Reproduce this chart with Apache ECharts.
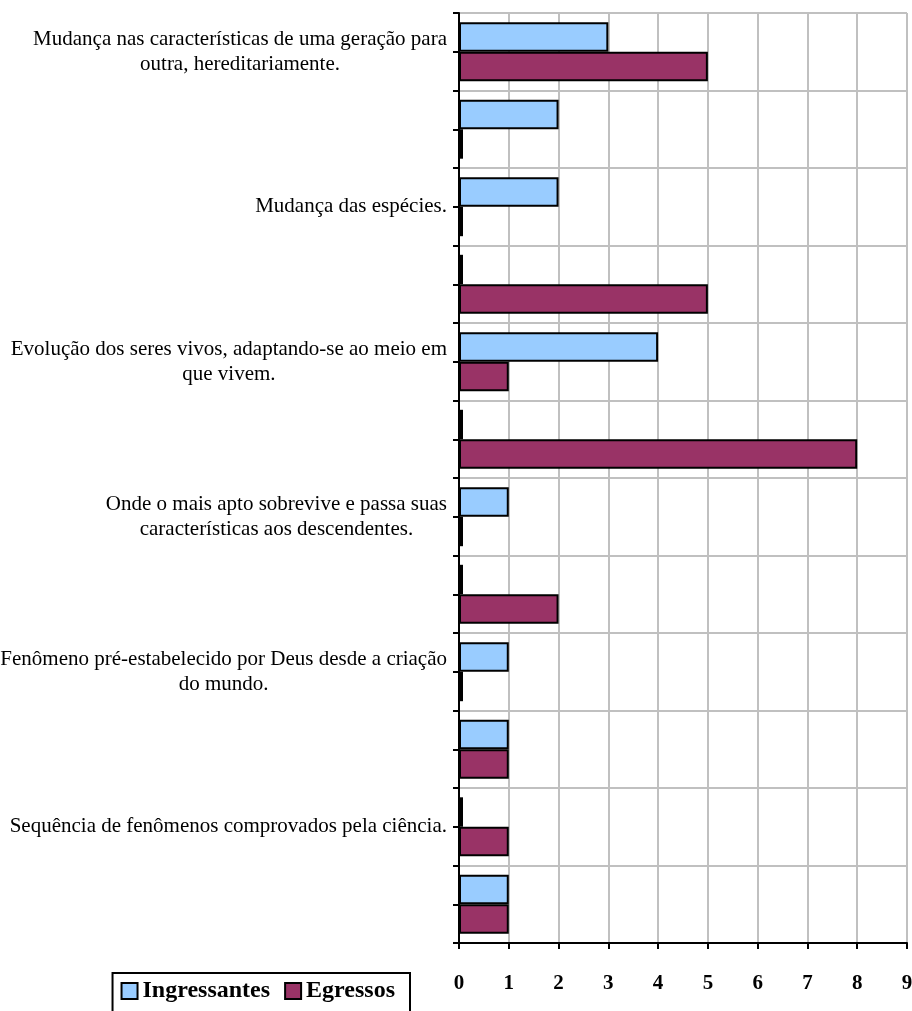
<!DOCTYPE html>
<html>
<head>
<meta charset="utf-8">
<script src="https://cdn.jsdelivr.net/npm/echarts@6/dist/echarts.min.js"></script>
<style>
  html, body { margin: 0; padding: 0; background: #fff; }
  #chart { width: 912px; height: 1011px; }
</style>
</head>
<body>
<div id="chart"></div>
<script>
// categorias (linhas em branco fazem parte do gráfico original)
const categorias = [
  'Mudança nas características de uma geração para\noutra, hereditariamente.',
  '',
  'Mudança das espécies.',
  '',
  'Evolução dos seres vivos, adaptando-se ao meio em\nque vivem.',
  '',
  'Onde o mais apto sobrevive e passa suas\ncaracterísticas aos descendentes.',
  '',
  'Fenômeno pré-estabelecido por Deus desde a criação\ndo mundo.',
  '',
  'Sequência de fenômenos comprovados pela ciência.',
  ''
]
const ingressantes = [3, 2, 2, 0, 4, 0, 1, 0, 1, 1, 0, 1]
const egressos = [5, 0, 0, 5, 1, 8, 0, 2, 0, 1, 1, 1]
const xTicks = [0, 1, 2, 3, 4, 5, 6, 7, 8, 9]

const fonte = "'Liberation Serif', 'Times New Roman', serif"
const chart = echarts.init(document.getElementById('chart'))

const option = {
  animation: false,
  backgroundColor: '#fff',
  textStyle: { fontFamily: fonte },
  grid: { left: 459, top: 13, right: 5, bottom: 68, containLabel: false, outerBoundsMode: 'none' },
  legend: {
    data: ['Ingressantes', 'Egressos'],
    right: 502,
    top: 973,
    orient: 'horizontal',
    padding: [6, 15, 12, 8],
    borderColor: '#000',
    borderWidth: 2,
    itemGap: 14,
    itemWidth: 16,
    itemHeight: 16,
    icon: 'rect',
    itemStyle: { borderColor: '#000', borderWidth: 2 },
    textStyle: { fontFamily: fonte, fontSize: 24, fontWeight: 'bold', color: '#000' }
  },
  xAxis: {
    type: 'value',
    min: xTicks[0],
    max: xTicks[xTicks.length - 1],
    interval: 1,
    axisLine: { show: true, lineStyle: { color: '#000', width: 2 } },
    axisTick: { show: true, length: 6, lineStyle: { color: '#000', width: 2 } },
    axisLabel: { margin: 30, fontFamily: fonte, fontSize: 21, fontWeight: 'bold', color: '#000' },
    splitLine: { show: true, lineStyle: { color: '#c0c0c0', width: 2 } }
  },
  yAxis: [{
    type: 'category',
    inverse: true,
    data: categorias,
    axisLine: { show: true, lineStyle: { color: '#000', width: 2 } },
    axisTick: { show: true, length: 6, alignWithLabel: false, interval: 0, lineStyle: { color: '#000', width: 2 } },
    splitLine: { show: true, interval: 0, lineStyle: { color: '#c0c0c0', width: 2 } },
    axisLabel: {
      interval: 0,
      margin: 12,
      align: 'right',
      color: '#000',
      formatter: function (v) {
        if (!v) return ''
        return v.split('\n').map(l => '{c|' + l + '}').join('\n')
      },
      rich: {
        c: { align: 'center', fontFamily: fonte, fontSize: 21, lineHeight: 25, color: '#000' }
      }
    }
  }, {
    // marcas intermediárias entre as barras de cada categoria
    type: 'category',
    inverse: true,
    position: 'left',
    data: Array.from({ length: categorias.length * 2 }, () => ''),
    axisLine: { show: false },
    axisLabel: { show: false },
    splitLine: { show: false },
    axisTick: { show: true, length: 6, interval: 0, lineStyle: { color: '#000', width: 2 } }
  }],
  series: [{
    name: 'Ingressantes',
    type: 'bar',
    yAxisIndex: 0,
    data: ingressantes,
    barGap: '0%',
    barCategoryGap: '24%',
    barMinHeight: 4,
    itemStyle: { color: '#99ccff', borderColor: '#000', borderWidth: 2 }
  }, {
    name: 'Egressos',
    type: 'bar',
    yAxisIndex: 0,
    data: egressos,
    barGap: '0%',
    barCategoryGap: '24%',
    barMinHeight: 4,
    itemStyle: { color: '#993366', borderColor: '#000', borderWidth: 2 }
  }]
}
chart.setOption(option)
</script>
</body>
</html>
